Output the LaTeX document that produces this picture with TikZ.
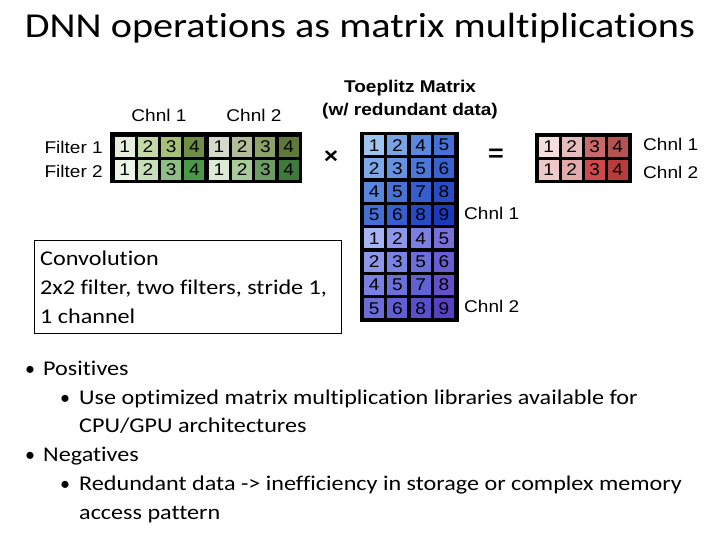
\documentclass[tikz,border=0pt]{standalone}
\usepackage{fontspec}
\setmainfont{Carlito}[Ligatures=NoCommon]
\newfontfamily\arialf{Liberation Sans}
\newcommand\hs[1]{\scalebox{1.12}[1]{#1}}
\newcommand\hb[1]{\scalebox{1.15}[1]{#1}}
% green
\definecolor{ga1}{HTML}{E6EEDD}\definecolor{ga2}{HTML}{C4D8A8}\definecolor{ga3}{HTML}{A6C078}\definecolor{ga4}{HTML}{6E8E44}
\definecolor{ga5}{HTML}{D5D9CA}\definecolor{ga6}{HTML}{B2BD99}\definecolor{ga7}{HTML}{8CA268}\definecolor{ga8}{HTML}{5E7A38}
\definecolor{gb1}{HTML}{EDF5E7}\definecolor{gb2}{HTML}{C6DFBA}\definecolor{gb3}{HTML}{8EBD86}\definecolor{gb4}{HTML}{4A9848}
\definecolor{gb5}{HTML}{DBEBD4}\definecolor{gb6}{HTML}{A7CB9A}\definecolor{gb7}{HTML}{6C9B66}\definecolor{gb8}{HTML}{3E7A39}
% blue
\definecolor{b11}{HTML}{9FC4F0}\definecolor{b12}{HTML}{78A4E6}\definecolor{b13}{HTML}{5A88DF}\definecolor{b14}{HTML}{4470D7}
\definecolor{b21}{HTML}{7EA8E8}\definecolor{b22}{HTML}{6693E1}\definecolor{b23}{HTML}{4A77D8}\definecolor{b24}{HTML}{3862CF}
\definecolor{b31}{HTML}{5A86DD}\definecolor{b32}{HTML}{4873D5}\definecolor{b33}{HTML}{365ECE}\definecolor{b34}{HTML}{284CC6}
\definecolor{b41}{HTML}{4470D5}\definecolor{b42}{HTML}{365ECE}\definecolor{b43}{HTML}{284BC5}\definecolor{b44}{HTML}{1A3ABC}
\definecolor{b51}{HTML}{A7B4F4}\definecolor{b52}{HTML}{8E98EA}\definecolor{b53}{HTML}{7A80E2}\definecolor{b54}{HTML}{7870D8}
\definecolor{b61}{HTML}{8D98EA}\definecolor{b62}{HTML}{7983E3}\definecolor{b63}{HTML}{6C6FDA}\definecolor{b64}{HTML}{685ED2}
\definecolor{b71}{HTML}{7A80E2}\definecolor{b72}{HTML}{6C6FDA}\definecolor{b73}{HTML}{6062D3}\definecolor{b74}{HTML}{6450C9}
\definecolor{b81}{HTML}{6B6CD8}\definecolor{b82}{HTML}{605FD3}\definecolor{b83}{HTML}{594FCB}\definecolor{b84}{HTML}{5940C0}
% red
\definecolor{ra1}{HTML}{F4DEDE}\definecolor{ra2}{HTML}{E7BCBC}\definecolor{ra3}{HTML}{C96A6A}\definecolor{ra4}{HTML}{B55353}
\definecolor{rb1}{HTML}{EFC8C8}\definecolor{rb2}{HTML}{E3AAAA}\definecolor{rb3}{HTML}{CC4A4A}\definecolor{rb4}{HTML}{B93C3C}
\begin{document}
\begin{tikzpicture}[x=1pt,y=-1pt,
  cell/.style={anchor=north west,minimum width=20pt,minimum height=20pt,inner sep=0pt,
    font=\arialf\fontsize{17}{18}\selectfont},
  frame/.style={anchor=north west,fill=black,inner sep=0pt},
  lab/.style={inner sep=0pt,font=\arialf\fontsize{17}{18}\selectfont},
  body/.style={inner sep=0pt,anchor=base west,font=\fontsize{21}{24}\selectfont},
  bul/.style={inner sep=0pt,anchor=base,font=\fontsize{20}{24}\selectfont}]
\useasboundingbox (0,0) rectangle (720,540);
% title
\node[inner sep=0pt,anchor=base,font=\fontsize{35}{38}\selectfont] (title) at (360,38) {\hb{DNN operations as matrix multiplications}};
% filter matrix
\node[frame,minimum width=192pt,minimum height=51pt] (fmat) at (110,132) {};
\foreach \c/\n [count=\i from 0] in {ga1/1,ga2/2,ga3/3,ga4/4,ga5/1,ga6/2,ga7/3,ga8/4}
  \node[cell,fill=\c] (fa\i) at ({114.5+23.2*\i+(\i>3)*1.5},136.5) {\hs{\n}};
\foreach \c/\n [count=\i from 0] in {gb1/1,gb2/2,gb3/3,gb4/4,gb5/1,gb6/2,gb7/3,gb8/4}
  \node[cell,fill=\c] (fb\i) at ({114.5+23.2*\i+(\i>3)*1.5},159.5) {\hs{\n}};
\node[lab] (c1top) at (159,115) {\hs{Chnl 1}};
\node[lab] (c2top) at (254,115) {\hs{Chnl 2}};
\node[lab,anchor=east] (f1) at (103,147) {\hs{Filter 1}};
\node[lab,anchor=east] (f2) at (103,171.5) {\hs{Filter 2}};
% times
\node[inner sep=0pt,font=\arialf\bfseries\fontsize{22}{22}\selectfont] (times) at (331,157) {\hs{×}};
% toeplitz
\node[lab,font=\arialf\bfseries\fontsize{17}{18}\selectfont] (tt1) at (410,88) {\hs{Toeplitz Matrix}};
\node[lab,font=\arialf\bfseries\fontsize{17}{18}\selectfont] (tt2) at (410,111) {\hs{(w/ redundant data)}};
\node[frame,minimum width=99pt,minimum height=190pt] (tmat) at (359.5,132) {};
\foreach \row [count=\j from 0] in {
  {b11/1,b12/2,b13/4,b14/5},{b21/2,b22/3,b23/5,b24/6},{b31/4,b32/5,b33/7,b34/8},{b41/5,b42/6,b43/8,b44/9},
  {b51/1,b52/2,b53/4,b54/5},{b61/2,b62/3,b63/5,b64/6},{b71/4,b72/5,b73/7,b74/8},{b81/5,b82/6,b83/8,b84/9}}
  \foreach \c/\n [count=\i from 0] in \row
    \node[cell,fill=\c] (t\j\i) at ({364+23.2*\i},{135+23.3*\j}) {\hs{\n}};
\node[lab,anchor=west] (tc1) at (464,213) {\hs{Chnl 1}};
\node[lab,anchor=west] (tc2) at (464,306) {\hs{Chnl 2}};
% equals
\node[inner sep=0pt,font=\arialf\bfseries\fontsize{24}{24}\selectfont] (eq) at (496,155) {\hs{=}};
% result
\node[frame,minimum width=97pt,minimum height=50pt] (rmat) at (535,133) {};
\foreach \c/\n [count=\i from 0] in {ra1/1,ra2/2,ra3/3,ra4/4}
  \node[cell,fill=\c] (ra\i) at ({538.5+23*\i},136.5) {\hs{\n}};
\foreach \c/\n [count=\i from 0] in {rb1/1,rb2/2,rb3/3,rb4/4}
  \node[cell,fill=\c] (rb\i) at ({538.5+23*\i},159.5) {\hs{\n}};
\node[lab,anchor=west] (rc1) at (643,144) {\hs{Chnl 1}};
\node[lab,anchor=west] (rc2) at (643,172) {\hs{Chnl 2}};
% convolution box
\draw[line width=0.8pt] (34,240) rectangle (341,333);
\node[body] (cv1) at (40,265) {\hb{Convolution}};
\node[body] (cv2) at (40,294) {\hb{2x2 filter, two filters, stride 1,}};
\node[body] (cv3) at (40,323) {\hb{1 channel}};
% bullets
\node[bul] (b1) at (30,375) {•};
\node[body] (t1) at (43,375) {\hb{Positives}};
\node[bul] (b2) at (65,404) {•};
\node[body] (t2) at (79,404) {\hb{Use optimized matrix multiplication libraries available for}};
\node[body] (t3) at (79,432.5) {\hb{CPU/GPU architectures}};
\node[bul] (b3) at (30,461) {•};
\node[body] (t4) at (43,461) {\hb{Negatives}};
\node[bul] (b4) at (65,490) {•};
\node[body] (t5) at (79,490) {\hb{Redundant data -> inefficiency in storage or complex memory}};
\node[body] (t6) at (79,519) {\hb{access pattern}};
\end{tikzpicture}
\end{document}
